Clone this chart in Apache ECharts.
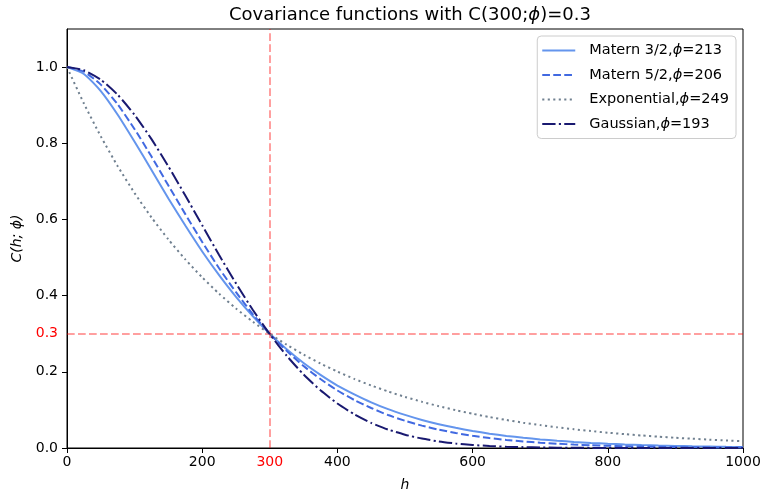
<!DOCTYPE html>
<html>
<head>
<meta charset="utf-8">
<script src="https://cdn.jsdelivr.net/npm/echarts@6/dist/echarts.min.js"></script>
<style>
  html, body { margin: 0; padding: 0; background: #ffffff; }
  #chart { width: 765px; height: 494px; }
</style>
</head>
<body>
<div id="chart"></div>
<script>
// Lag distances h
const lags = [0, 25, 50, 75, 100, 125, 150, 175, 200, 225, 250, 275, 300, 325, 350, 375, 400,
  425, 450, 475, 500, 525, 550, 575, 600, 625, 650, 675, 700, 725, 750, 775, 800,
  825, 850, 875, 900, 925, 950, 975, 1000];

// Covariance values C(h; phi) for each model
const matern32 = [1.000, 0.982, 0.937, 0.875, 0.804, 0.730, 0.655, 0.584, 0.516, 0.454, 0.397, 0.346, 0.300,
  0.259, 0.223, 0.192, 0.164, 0.141, 0.120, 0.102, 0.0869, 0.0737, 0.0625, 0.0529, 0.0447,
  0.0377, 0.0318, 0.0268, 0.0226, 0.0190, 0.0159, 0.0134, 0.0112, 0.0094, 0.0079, 0.0066,
  0.0055, 0.0046, 0.0039, 0.0032, 0.0027];
const matern52 = [1.000, 0.988, 0.954, 0.902, 0.837, 0.765, 0.689, 0.614, 0.541, 0.472, 0.409, 0.351, 0.300,
  0.255, 0.215, 0.181, 0.151, 0.126, 0.105, 0.0865, 0.0714, 0.0587, 0.0481, 0.0394, 0.0321,
  0.0261, 0.0212, 0.0172, 0.0139, 0.0113, 0.0091, 0.0073, 0.0059, 0.0047, 0.0038, 0.0030,
  0.0024, 0.0019, 0.0016, 0.0012, 0.0010];
const exponential = [1.000, 0.9045, 0.8181, 0.7399, 0.6692, 0.6053, 0.5475, 0.4952, 0.4479, 0.4051, 0.3664,
  0.3314, 0.2997, 0.2711, 0.2452, 0.2218, 0.2006, 0.1814, 0.1641, 0.1484, 0.1342, 0.1214,
  0.1098, 0.0993, 0.0898, 0.0813, 0.0735, 0.0665, 0.0601, 0.0544, 0.0492, 0.0445, 0.0402,
  0.0364, 0.0329, 0.0298, 0.0269, 0.0244, 0.0220, 0.0199, 0.0180];
const gaussian = [1.000, 0.9917, 0.9670, 0.9273, 0.8744, 0.8108, 0.7393, 0.6629, 0.5845, 0.5068, 0.4322,
  0.3624, 0.2988, 0.2422, 0.1931, 0.1514, 0.1168, 0.0885, 0.0660, 0.0484, 0.0349, 0.0247,
  0.0172, 0.0118, 0.0080, 0.0053, 0.0034, 0.0022, 0.0014, 0.0009, 0.0005, 0.0003, 0.0002,
  0.0001, 0.0001, 0.0000, 0.0000, 0.0000, 0.0000, 0.0000, 0.0000];

const seriesNames = ['Matern 3/2,ϕ=213', 'Matern 5/2,ϕ=206', 'Exponential,ϕ=249', 'Gaussian,ϕ=193'];

// Tick positions and labels
const xTicks = [0, 200, 400, 600, 800, 1000];
const xLabels = [0, 200, 300, 400, 600, 800, 1000];
const yTicks = [0, 0.2, 0.4, 0.6, 0.8, 1.0];
const yLabels = [0, 0.2, 0.3, 0.4, 0.6, 0.8, 1.0];
const refLag = 300;
const refCov = 0.3;

const FONT = 'DejaVu Sans';
const pairs = vals => lags.map((h, i) => [h, vals[i]]);

const styles = [
  { color: '#6495ED', type: 'solid' },
  { color: '#4169E1', type: [7.7, 3.3] },
  { color: '#708090', type: [2.1, 3.4] },
  { color: '#191970', type: [13.3, 3.3, 2.1, 3.3] }
];
const values = [matern32, matern52, exponential, gaussian];

const series = values.map((v, i) => ({
  name: seriesNames[i],
  type: 'line',
  data: pairs(v),
  symbol: 'none',
  smooth: 0.2,
  z: 3 + i,
  lineStyle: { color: styles[i].color, width: 2, type: styles[i].type },
  itemStyle: { color: styles[i].color }
}));

// Reference lines at h = 300 and C = 0.3
series[0].markLine = {
  silent: true,
  symbol: 'none',
  animation: false,
  label: { show: false },
  lineStyle: { color: 'rgba(255,0,0,0.5)', width: 1.5, type: [7.7, 3.3] },
  data: [{ xAxis: refLag }, { yAxis: refCov }]
};

const chart = echarts.init(document.getElementById('chart'), null, { renderer: 'canvas' });
chart.setOption({
  animation: false,
  backgroundColor: '#ffffff',
  title: {
    text: 'Covariance functions with C(300;{i|ϕ})=0.3',
    left: 405,
    textAlign: 'center',
    top: 1,
    textStyle: {
      fontFamily: FONT, fontSize: 18, fontWeight: 'normal', color: '#000',
      rich: { i: { fontFamily: FONT, fontSize: 18, fontStyle: 'italic', color: '#000' } }
    }
  },
  legend: {
    orient: 'vertical',
    right: 29,
    top: 36,
    backgroundColor: 'rgba(255,255,255,0.8)',
    borderColor: '#cccccc',
    borderWidth: 1,
    borderRadius: 4,
    padding: [7, 7, 7, 4],
    itemWidth: 33,
    itemHeight: 12,
    itemGap: 9.5,
    itemStyle: { opacity: 0 },
    formatter: name => name.replace('ϕ', '{i|ϕ}'),
    textStyle: {
      fontFamily: FONT, fontSize: 14.5, color: '#000',
      padding: [0, 0, 0, 9],
      rich: { i: { fontFamily: FONT, fontSize: 14.5, fontStyle: 'italic', color: '#000' } }
    }
  },
  grid: {
    left: 67, right: 22, top: 29, bottom: 46,
    outerBoundsMode: 'none',
    containLabel: false,
    show: true, borderColor: '#000', borderWidth: 1, backgroundColor: 'transparent'
  },
  xAxis: {
    type: 'value',
    min: 0, max: 1000,
    name: 'h',
    nameLocation: 'middle',
    nameGap: 30,
    nameTextStyle: { fontFamily: FONT, fontSize: 14, fontStyle: 'italic', color: '#000' },
    axisLine: { show: true, onZero: false, lineStyle: { color: '#000', width: 1 } },
    axisTick: { show: true, inside: false, length: 5, customValues: xTicks, lineStyle: { color: '#000', width: 1 } },
    axisLabel: {
      customValues: xLabels,
      margin: 7,
      fontFamily: FONT, fontSize: 14, color: '#000',
      formatter: v => (v === refLag ? '{r|' + v + '}' : String(v)),
      rich: { r: { color: '#ff0000', fontFamily: FONT, fontSize: 14 } }
    },
    splitLine: { show: false }
  },
  yAxis: {
    type: 'value',
    min: 0, max: 1.1,
    name: 'C(h; ϕ)',
    nameLocation: 'middle',
    nameRotate: 90,
    nameGap: 41,
    nameTextStyle: { fontFamily: FONT, fontSize: 14, fontStyle: 'italic', color: '#000' },
    axisLine: { show: true, onZero: false, lineStyle: { color: '#000', width: 1 } },
    axisTick: { show: true, inside: false, length: 5, customValues: yTicks, lineStyle: { color: '#000', width: 1 } },
    axisLabel: {
      customValues: yLabels,
      margin: 9,
      fontFamily: FONT, fontSize: 14, color: '#000',
      formatter: v => (Math.abs(v - refCov) < 1e-9 ? '{r|' + v.toFixed(1) + '}' : v.toFixed(1)),
      rich: { r: { color: '#ff0000', fontFamily: FONT, fontSize: 14 } }
    },
    splitLine: { show: false }
  },
  series: series
});
</script>
</body>
</html>
